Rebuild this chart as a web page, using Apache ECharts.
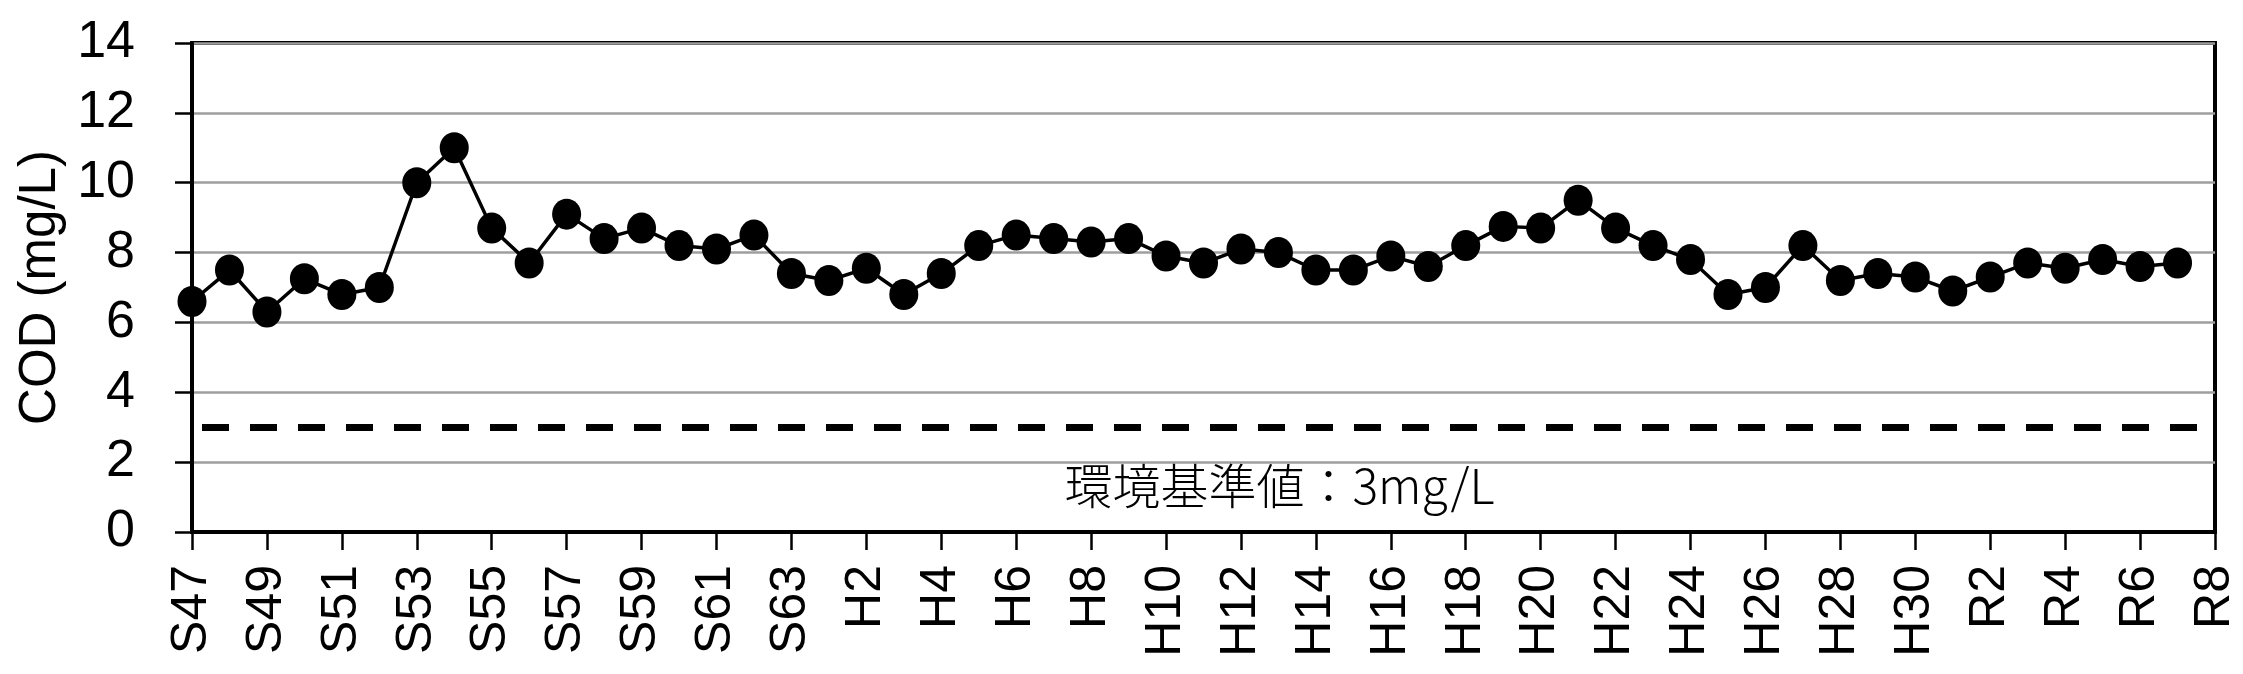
<!DOCTYPE html>
<html>
<head>
<meta charset="utf-8">
<script src="https://cdn.jsdelivr.net/npm/echarts@6/dist/echarts.min.js"></script>
<style>
  html, body { margin: 0; padding: 0; background: #fff; }
  #chart { width: 2243px; height: 674px; }
</style>
</head>
<body>
<div id="chart"></div>
<script>
// fiscal years, Showa -> Heisei -> Reiwa
const years = [
  'S47','S48','S49','S50','S51','S52','S53','S54','S55','S56','S57','S58','S59','S60','S61','S62','S63',
  'H1','H2','H3','H4','H5','H6','H7','H8','H9','H10','H11','H12','H13','H14','H15','H16','H17','H18','H19','H20',
  'H21','H22','H23','H24','H25','H26','H27','H28','H29','H30',
  'R1','R2','R3','R4','R5','R6','R7','R8'
];

// COD annual values (mg/L)
const cod = [
  6.6, 7.5, 6.3, 7.25, 6.8, 7.0, 10.0, 11.0, 8.7, 7.7, 9.1, 8.4, 8.7, 8.2, 8.1, 8.5, 7.4,
  7.2, 7.55, 6.8, 7.4, 8.2, 8.5, 8.4, 8.3, 8.4, 7.9, 7.7, 8.1, 8.0, 7.5, 7.5, 7.9, 7.6, 8.2, 8.75, 8.7,
  9.5, 8.7, 8.2, 7.8, 6.8, 7.0, 8.2, 7.2, 7.4, 7.3,
  6.9, 7.3, 7.7, 7.55, 7.8, 7.6, 7.7, null
];

const standard = 3;
const standardLabel = '環境基準値：3mg/L';

const chart = echarts.init(document.getElementById('chart'));

let option = {
  animation: false,
  backgroundColor: '#fff',
  grid: {
    left: 192,
    right: 28,
    top: 43,
    bottom: 142,
    show: true,
    borderColor: '#000',
    borderWidth: 4
  },
  xAxis: {
    type: 'category',
    data: years,
    boundaryGap: false,
    axisLine: { lineStyle: { color: '#000', width: 4 } },
    axisTick: { show: true, interval: 1, length: 18, lineStyle: { color: '#000', width: 2.5 } },
    axisLabel: {
      interval: 1,
      rotate: 90,
      margin: 33,
      color: '#000',
      fontSize: 50,
      fontFamily: 'Liberation Sans'
    },
    splitLine: { show: false }
  },
  yAxis: {
    type: 'value',
    min: 0,
    max: 14,
    interval: 2,
    name: 'COD (mg/L)',
    nameLocation: 'middle',
    nameGap: 124,
    nameTextStyle: { color: '#000', fontSize: 51, fontFamily: 'Liberation Sans' },
    axisLine: { show: true, lineStyle: { color: '#000', width: 4 } },
    axisTick: { show: true, length: 17, lineStyle: { color: '#000', width: 2.5 } },
    axisLabel: {
      margin: 57,
      color: '#000',
      fontSize: 52,
      fontFamily: 'Liberation Sans'
    },
    splitLine: { lineStyle: { color: '#9e9e9e', width: 2.5 } }
  },
  series: [
    {
      type: 'line',
      data: cod,
      symbol: 'circle',
      symbolSize: [29, 31],
      showAllSymbol: true,
      itemStyle: { color: '#000' },
      lineStyle: { color: '#000', width: 3.5 },
      markLine: {
        silent: true,
        symbol: 'none',
        lineStyle: { color: '#000', width: 7, type: [27, 21], dashOffset: 38 },
        label: {
          show: true,
          position: 'insideMiddleBottom',
          formatter: standardLabel,
          color: '#000',
          fontSize: 48,
          fontWeight: 300,
          fontFamily: 'Noto Sans CJK JP',
          distance: 35,
          offset: [76, 0]
        },
        data: [{ yAxis: standard }]
      }
    }
  ]
};

chart.setOption(option);
</script>
</body>
</html>
